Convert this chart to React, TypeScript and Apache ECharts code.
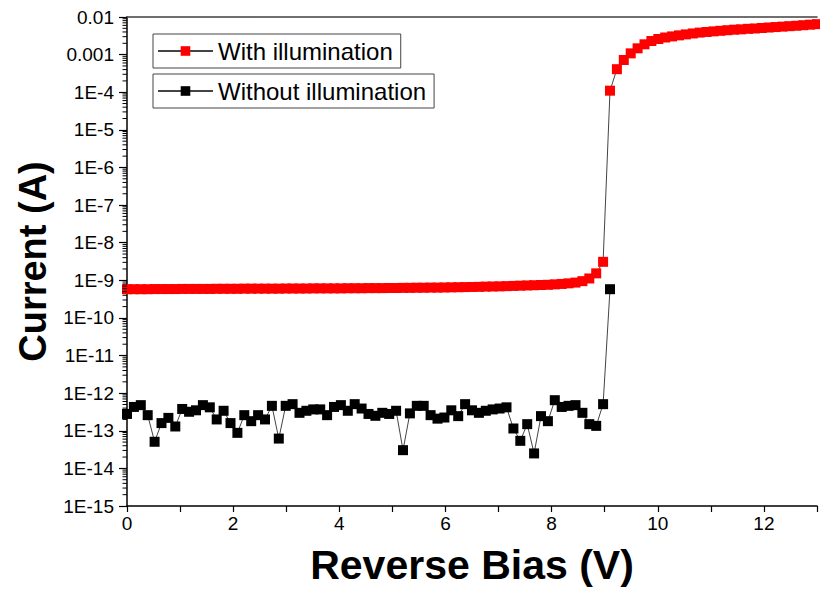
import React, { useEffect, useRef } from 'react';
import * as echarts from 'echarts';

// Reverse bias sweep (V)
const biasVoltage = [
  0, 0.13, 0.26, 0.39, 0.52, 0.65, 0.78, 0.91, 1.04, 1.17,
  1.3, 1.43, 1.56, 1.69, 1.82, 1.95, 2.08, 2.21, 2.34, 2.47,
  2.6, 2.73, 2.86, 2.99, 3.12, 3.25, 3.38, 3.51, 3.64, 3.77,
  3.9, 4.03, 4.16, 4.29, 4.42, 4.55, 4.68, 4.81, 4.94, 5.07,
  5.2, 5.33, 5.46, 5.59, 5.72, 5.85, 5.98, 6.11, 6.24, 6.37,
  6.5, 6.63, 6.76, 6.89, 7.02, 7.15, 7.28, 7.41, 7.54, 7.67,
  7.8, 7.93, 8.06, 8.19, 8.32, 8.45, 8.58, 8.71, 8.84, 8.97,
  9.1, 9.23, 9.36, 9.49, 9.62, 9.75, 9.88, 10.01, 10.14, 10.27,
  10.4, 10.53, 10.66, 10.79, 10.92, 11.05, 11.18, 11.31, 11.44, 11.57,
  11.7, 11.83, 11.96, 12.09, 12.22, 12.35, 12.48, 12.61, 12.74, 12.87,
  13.0,
];

// Current with illumination (A)
const withIllumination = [
  5.8e-10, 5.8e-10, 5.8e-10, 5.8e-10, 5.85e-10, 5.85e-10, 5.85e-10, 5.85e-10, 5.9e-10, 5.9e-10,
  5.9e-10, 5.9e-10, 5.9e-10, 5.95e-10, 5.95e-10, 5.95e-10, 5.95e-10, 6.0e-10, 6.0e-10, 6.0e-10,
  6.0e-10, 6.0e-10, 6.0e-10, 6.05e-10, 6.05e-10, 6.05e-10, 6.05e-10, 6.1e-10, 6.1e-10, 6.1e-10,
  6.1e-10, 6.1e-10, 6.15e-10, 6.15e-10, 6.15e-10, 6.2e-10, 6.2e-10, 6.2e-10, 6.25e-10, 6.25e-10,
  6.3e-10, 6.3e-10, 6.35e-10, 6.35e-10, 6.4e-10, 6.4e-10, 6.45e-10, 6.5e-10, 6.55e-10, 6.6e-10,
  6.65e-10, 6.7e-10, 6.8e-10, 6.85e-10, 6.9e-10, 7.0e-10, 7.1e-10, 7.2e-10, 7.3e-10, 7.4e-10,
  7.5e-10, 7.6e-10, 7.8e-10, 8.0e-10, 8.3e-10, 8.7e-10, 9.5e-10, 1.12e-9, 1.53e-9, 3.1e-9,
  1.1e-4, 4.1e-4, 7.2e-4, 1.08e-3, 1.47e-3, 1.88e-3, 2.3e-3, 2.6e-3, 2.85e-3, 3.05e-3,
  3.25e-3, 3.45e-3, 3.65e-3, 3.85e-3, 4.0e-3, 4.15e-3, 4.3e-3, 4.45e-3, 4.6e-3, 4.7e-3,
  4.85e-3, 4.95e-3, 5.1e-3, 5.25e-3, 5.4e-3, 5.55e-3, 5.7e-3, 5.85e-3, 6.05e-3, 6.25e-3,
  6.45e-3,
];

// Current without illumination (A)
const withoutIllumination = [
  2.8e-13, 4.3e-13, 4.8e-13, 2.6e-13, 5.1e-14, 1.6e-13, 2.2e-13, 1.3e-13, 3.8e-13, 3.2e-13,
  3.5e-13, 4.8e-13, 4.2e-13, 2.0e-13, 3.4e-13, 1.6e-13, 8.8e-14, 2.6e-13, 1.8e-13, 2.6e-13,
  2.0e-13, 4.6e-13, 6.2e-14, 4.6e-13, 5.1e-13, 3.0e-13, 3.4e-13, 3.7e-13, 3.7e-13, 2.6e-13,
  4.3e-13, 4.8e-13, 3.4e-13, 5.1e-13, 3.9e-13, 2.8e-13, 2.5e-13, 3.0e-13, 2.8e-13, 3.4e-13,
  3.05e-14, 2.9e-13, 4.6e-13, 4.6e-13, 2.6e-13, 2.1e-13, 2.25e-13, 3.5e-13, 2.45e-13, 5.1e-13,
  3.5e-13, 3.0e-13, 3.4e-13, 3.7e-13, 3.9e-13, 4.2e-13, 1.15e-13, 5.4e-14, 1.5e-13, 2.5e-14,
  2.45e-13, 1.8e-13, 6.5e-13, 4.3e-13, 4.6e-13, 4.8e-13, 3.0e-13, 1.5e-13, 1.35e-13, 5.1e-13,
  5.8e-10,
];

const SERIES_NAMES = ['With illumination', 'Without illumination'];
const Y_MIN_EXP = -15;
const Y_MAX_EXP = -2;
const X_MIN = 0;
const X_MAX = 13;

const FONT = '"Liberation Sans", Arial, sans-serif';

function yLabel(v: number): string {
  const e = Math.round(Math.log10(v));
  if (e >= -3) return String(Number(Math.pow(10, e).toFixed(-e)));
  return '1E' + e;
}

export default function App() {
  const ref = useRef<HTMLDivElement>(null);

  useEffect(() => {
    if (!ref.current) return;
    const chart = echarts.init(ref.current, undefined, { renderer: 'svg' });

    // log-spaced minor tick positions (axis decoration)
    const minorTicks: number[][] = [];
    for (let e = Y_MIN_EXP; e < Y_MAX_EXP; e++) {
      for (let k = 2; k <= 9; k++) minorTicks.push([X_MIN, k * Math.pow(10, e)]);
    }

    const red = biasVoltage.slice(0, withIllumination.length).map((v, i) => [v, withIllumination[i]]);
    const black = biasVoltage.slice(0, withoutIllumination.length).map((v, i) => [v, withoutIllumination[i]]);

    const legendCommon = {
      orient: 'horizontal',
      itemWidth: 55,
      itemHeight: 12,
      itemGap: 0,
      padding: [5, 8, 5, 4],
      borderColor: '#444',
      borderWidth: 1,
      selectedMode: false,
      textStyle: { fontSize: 24, color: '#000', fontFamily: FONT },
    };

    chart.setOption({
      animation: false,
      backgroundColor: '#fff',
      grid: { left: 127, right: -4, top: 17, bottom: 91, containLabel: false },
      legend: [
        { ...legendCommon, data: [SERIES_NAMES[0]], left: 153, top: 34 },
        { ...legendCommon, data: [SERIES_NAMES[1]], left: 153, top: 74 },
      ],
      xAxis: [
        {
          type: 'value',
          min: X_MIN,
          max: X_MAX,
          interval: 1,
          position: 'bottom',
          axisLine: { show: true, onZero: false, lineStyle: { color: '#000', width: 1.5 } },
          axisTick: { show: true, length: 6, lineStyle: { color: '#000', width: 1.2 } },
          axisLabel: {
            fontSize: 19,
            color: '#000',
            fontFamily: FONT,
            margin: 8,
            formatter: (v: number) => (Math.round(v) % 2 === 0 && v < X_MAX ? String(v) : ''),
          },
          splitLine: { show: false },
          name: 'Reverse Bias (V)',
          nameLocation: 'middle',
          nameGap: 38,
          nameTextStyle: { fontSize: 41, fontWeight: 'bold', color: '#000', fontFamily: FONT },
        },
        {
          type: 'value',
          min: X_MIN,
          max: X_MAX,
          position: 'top',
          axisLine: { show: true, onZero: false, lineStyle: { color: '#404040', width: 1.5 } },
          axisTick: { show: false },
          axisLabel: { show: false },
          splitLine: { show: false },
        },
      ],
      yAxis: {
        type: 'log',
        logBase: 10,
        min: Math.pow(10, Y_MIN_EXP),
        max: Math.pow(10, Y_MAX_EXP),
        interval: 1,
        splitNumber: 13,
        axisLine: { show: true, onZero: false, lineStyle: { color: '#000', width: 1.5 } },
        axisTick: { show: true, length: 8, lineStyle: { color: '#000', width: 1.2 } },
        axisLabel: { fontSize: 19, color: '#000', fontFamily: FONT, margin: 13, formatter: yLabel },
        splitLine: { show: false },
        name: 'Current (A)',
        nameLocation: 'middle',
        nameGap: 74,
        nameTextStyle: { fontSize: 38, fontWeight: 'bold', color: '#000', fontFamily: FONT },
      },
      series: [
        {
          name: SERIES_NAMES[1],
          type: 'line',
          data: black,
          symbol: 'rect',
          symbolSize: 10,
          itemStyle: { color: '#000' },
          lineStyle: { color: '#444', width: 1 },
          z: 3,
        },
        {
          name: SERIES_NAMES[0],
          type: 'line',
          data: red,
          symbol: 'rect',
          symbolSize: 10,
          itemStyle: { color: '#ff0000' },
          lineStyle: { color: '#444', width: 1 },
          z: 4,
        },
        {
          name: 'minorTicks',
          type: 'custom',
          silent: true,
          clip: false,
          data: minorTicks,
          renderItem: (params: any, api: any) => {
            const p = api.coord([api.value(0), api.value(1)]);
            return {
              type: 'line',
              shape: { x1: p[0] - 4.5, y1: p[1], x2: p[0], y2: p[1] },
              style: { stroke: '#000', lineWidth: 1 },
            };
          },
          z: 5,
        },
      ],
    });

    return () => chart.dispose();
  }, []);

  return (
    <div
      ref={ref}
      style={{ position: 'fixed', left: 0, top: 0, width: 820, height: 597, background: '#fff' }}
    />
  );
}
